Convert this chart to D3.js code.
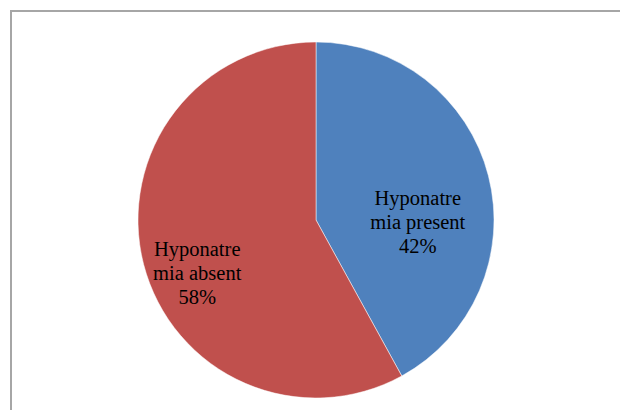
<!DOCTYPE html>
<html><head><meta charset="utf-8">
<script src="https://d3js.org/d3.v7.min.js"></script>
<style>body{margin:0;background:#fff}svg{display:block}</style>
</head><body>
<script>
const categories = ["Hyponatre\nmia present", "Hyponatre\nmia absent"];
const values = [42, 58];
const colors = ["#4F81BD", "#C0504D"];

const W = 620, H = 410;
const svg = d3.select("body").append("svg").attr("width", W).attr("height", H);

svg.append("rect").attr("x", 11).attr("y", 11).attr("width", W + 20).attr("height", H + 20)
  .attr("fill", "#fff").attr("stroke", "#a6a6a6").attr("stroke-width", 2);

const cx = 316, cy = 220, r = 178;
const g = svg.append("g").attr("transform", `translate(${cx},${cy})`);
const pie = d3.pie().sort(null).value(d => d)(values);
const arc = d3.arc().innerRadius(0).outerRadius(r);

g.selectAll("path").data(pie).enter().append("path")
  .attr("d", arc).attr("fill", (d, i) => colors[i])
  .attr("stroke", "#fff").attr("stroke-width", 0.5);

// label placement: centroid of a label arc, nudged toward Excel's best-fit spot
const labelArc = d3.arc().innerRadius(r * 0.66).outerRadius(r * 0.66);
const nudges = [[-12, 38], [-5, 31]];
pie.forEach((d, i) => {
  const [x, y] = labelArc.centroid(d);
  const lines = categories[i].split("\n").concat([values[i] + "%"]);
  const t = g.append("text")
    .attr("text-anchor", "middle")
    .attr("font-family", "Liberation Serif, Times New Roman, serif")
    .attr("font-size", 20.5).attr("fill", "#000");
  lines.forEach((ln, j) => {
    t.append("tspan").attr("x", x + nudges[i][0]).attr("y", y + nudges[i][1] + (j - 1) * 24).text(ln);
  });
});
</script>
</body></html>
